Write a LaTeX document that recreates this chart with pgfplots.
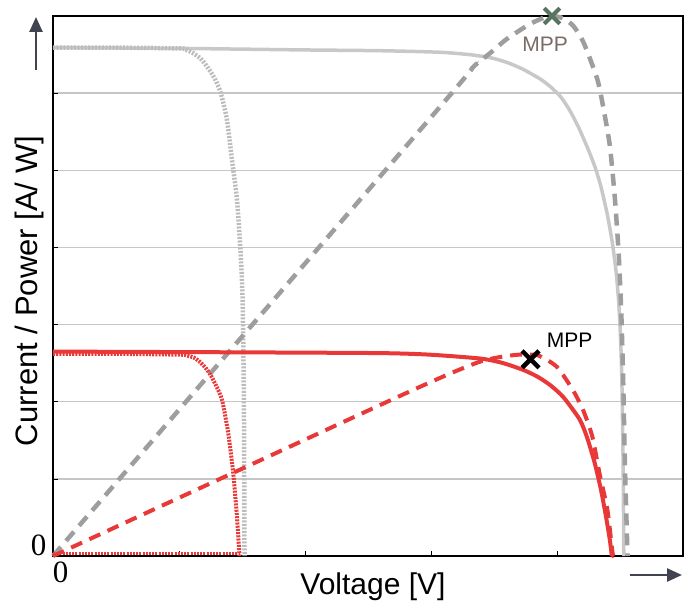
\documentclass[border=0pt]{standalone}
\usepackage{pgfplots}
\pgfplotsset{compat=1.18}
\usepackage{fontspec}
\setmainfont{Liberation Serif}
\setsansfont{Liberation Sans}
\usetikzlibrary{arrows.meta}
\definecolor{myred}{RGB}{233,56,56}
\definecolor{lgray}{RGB}{200,200,200}
\definecolor{dotgray}{RGB}{188,188,188}
\definecolor{dgray}{RGB}{158,158,158}
\definecolor{gridc}{RGB}{198,198,198}
\definecolor{arrowc}{RGB}{64,68,80}
\definecolor{mppgray}{RGB}{120,108,104}
\definecolor{xgreen}{RGB}{90,115,95}
\begin{document}
\begin{tikzpicture}
\useasboundingbox (-53pt,-47pt) rectangle (631pt,556pt);
\begin{axis}[
  scale only axis, width=630pt, height=540pt,
  xmin=0, xmax=5, ymin=0, ymax=7,
  axis line style={line width=2.5pt, black},
  xtick={1,2,3,4}, ytick={1,2,3,4,5,6},
  xticklabels={}, yticklabels={},
  tick align=inside, xtick pos=bottom, ytick pos=left,
  major tick length=5pt,
  tick style={black, line width=0.6pt},
  ymajorgrids, grid style={gridc, line width=1.3pt},
  clip=false,
]
% gray (high irradiance) I-V, solid
\addplot[lgray, line width=3.5pt, smooth, tension=0.4] coordinates {
 (0,6.59) (1,6.58) (2,6.56) (2.6,6.55) (3.07,6.53) (3.30,6.50) (3.47,6.46)
 (3.60,6.40) (3.73,6.31) (3.87,6.18) (3.95,6.08) (4.03,5.95) (4.10,5.78)
 (4.17,5.56) (4.24,5.30) (4.30,5.05) (4.35,4.78) (4.40,4.42) (4.44,4.05)
 (4.47,3.67) (4.49,3.28) (4.505,2.80) (4.515,2.25) (4.525,1.15) (4.53,0)};
% gray dotted I-V
\addplot[dotgray, line width=4.5pt, dash pattern=on 2pt off 1.5pt, smooth, tension=0.4] coordinates {
 (0,6.59) (0.5,6.59) (1.0,6.58) (1.06,6.56) (1.11,6.52) (1.17,6.45) (1.22,6.35)
 (1.28,6.20) (1.33,6.01) (1.38,5.66) (1.42,5.14) (1.46,4.62) (1.49,3.90)
 (1.505,3.30) (1.515,2.00) (1.52,0)};
% gray power, dashed
\addplot[dgray, line width=4.5pt, dash pattern=on 12pt off 8pt, smooth, tension=0.4] coordinates {
 (0,0) (3.07,5.82) (3.33,6.33) (3.47,6.52) (3.60,6.70) (3.79,6.90) (3.94,7.00)
 (4.05,6.97) (4.13,6.87) (4.21,6.66) (4.32,6.18) (4.37,5.79) (4.42,5.31)
 (4.46,4.62) (4.49,3.90) (4.51,3.16) (4.525,2.29) (4.54,1.12) (4.56,0)};
% red I-V solid
\addplot[myred, line width=4pt, smooth, tension=0.4] coordinates {
 (0,2.65) (1.5,2.64) (2.60,2.63) (2.99,2.61) (3.39,2.56) (3.55,2.51) (3.65,2.46)
 (3.75,2.40) (3.85,2.32) (3.95,2.21) (4.05,2.06) (4.18,1.77) (4.24,1.53)
 (4.30,1.20) (4.35,0.85) (4.39,0.50) (4.42,0.20) (4.435,0)};
% red dotted I-V
\addplot[myred, line width=4pt, dash pattern=on 2pt off 1.2pt, smooth, tension=0.4] coordinates {
 (0,2.62) (0.5,2.62) (1.0,2.61) (1.06,2.60) (1.12,2.57) (1.17,2.51) (1.22,2.42)
 (1.27,2.29) (1.34,2.03) (1.39,1.60) (1.43,1.08) (1.46,0.51) (1.48,0)};
\addplot[myred, line width=2.5pt, dash pattern=on 2pt off 1.2pt] coordinates {
 (0,0.03) (1.48,0.03)};
% red power dashed
\addplot[myred, line width=4pt, dash pattern=on 12pt off 8pt, smooth, tension=0.4] coordinates {
 (0,0) (2.60,1.96) (3.13,2.35) (3.39,2.52) (3.55,2.58) (3.70,2.61) (3.85,2.60)
 (4.00,2.45) (4.13,2.14) (4.21,1.88) (4.28,1.55) (4.34,1.05) (4.40,0.60)
 (4.44,0.05) (4.45,0)};
% MPP markers
\addplot[only marks, mark=x, mark size=11pt, xgreen, mark options={line width=4pt}] coordinates {(3.96,7.0)};
\addplot[only marks, mark=x, mark size=12pt, black, mark options={line width=4.5pt}] coordinates {(3.79,2.55)};
\node[mppgray, font=\sffamily\fontsize{21}{21}\selectfont] at (axis cs:3.905,6.63) {MPP};
\node[black, font=\sffamily\fontsize{21}{21}\selectfont] at (axis cs:4.10,2.79) {MPP};
\end{axis}
% axis labels
\node[font=\sffamily\fontsize{31}{31}\selectfont, rotate=90, anchor=base] at (-16pt,265pt) {Current / Power [A/ W]};
\node[font=\sffamily\fontsize{30}{30}\selectfont, anchor=base] at (320pt,-38pt) {Voltage [V]};
\node[font=\rmfamily\fontsize{31}{31}\selectfont, anchor=base] at (-14.5pt,1pt) {0};
\node[font=\rmfamily\fontsize{31}{31}\selectfont, anchor=base] at (7.5pt,-26pt) {0};
% direction arrows
\draw[arrowc, line width=2.5pt, -{Triangle[length=15pt,width=13pt]}] (-17pt,486pt) -- (-17pt,539pt);
\draw[arrowc, line width=2.5pt, -{Triangle[length=15pt,width=13pt]}] (577pt,-19pt) -- (629pt,-19pt);
\end{tikzpicture}
\end{document}
